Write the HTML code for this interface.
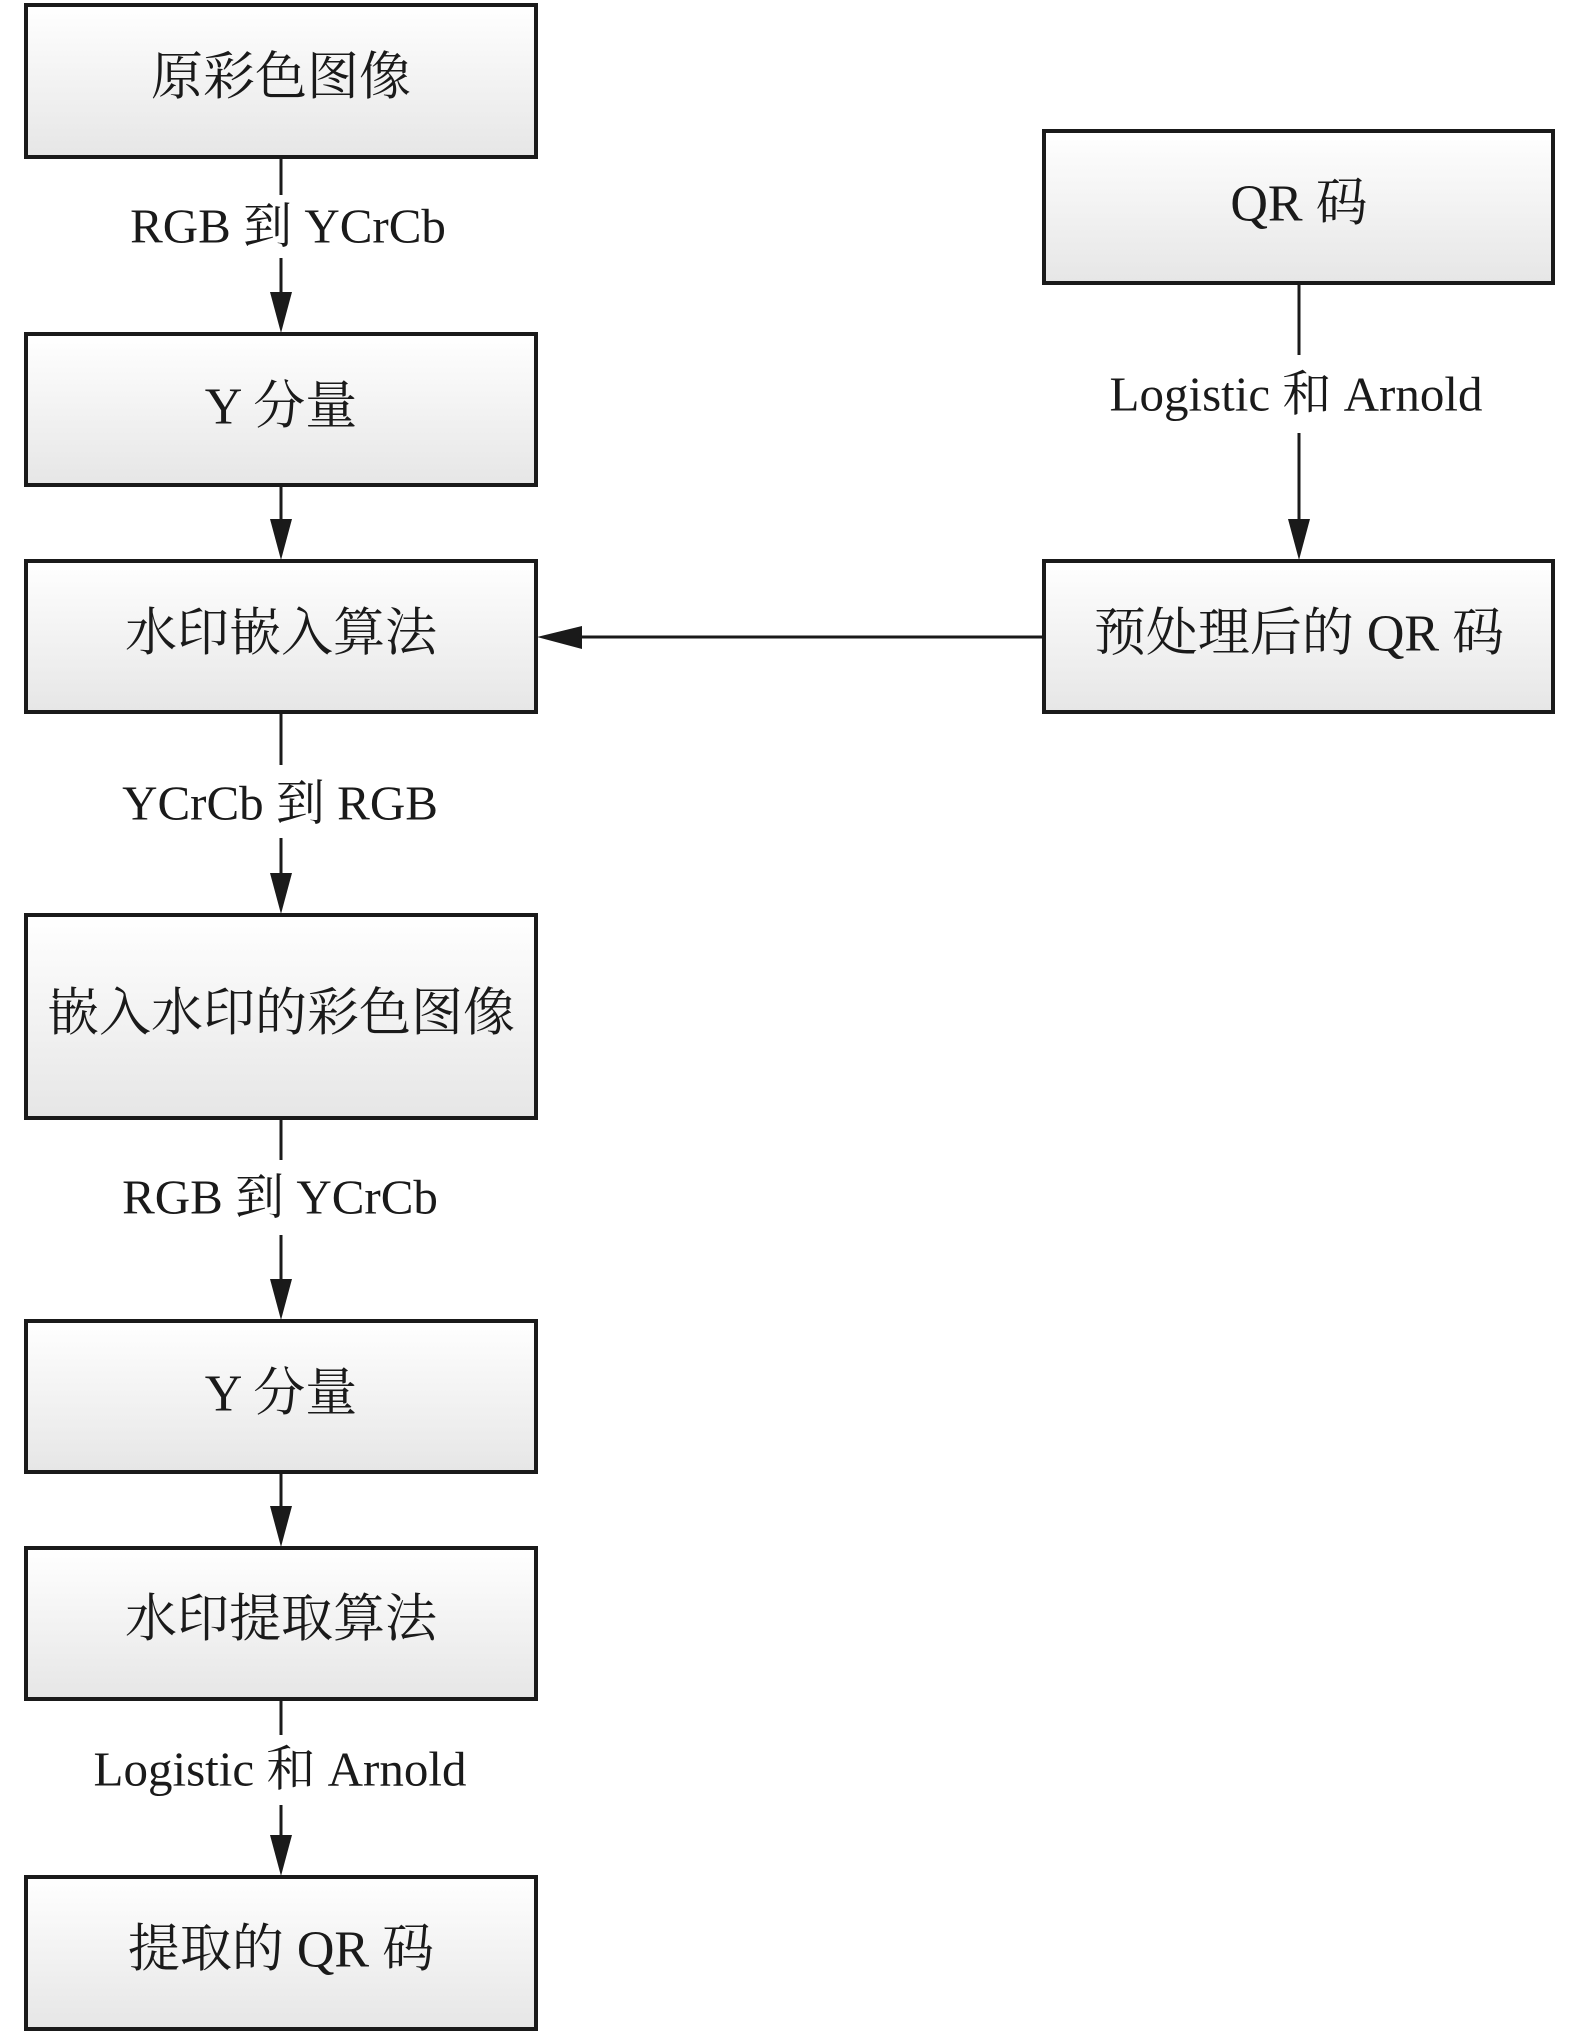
<!DOCTYPE html>
<html><head><meta charset="utf-8"><style>
html,body{margin:0;padding:0;background:#fff;}
svg{display:block;}
text{font-family:"Liberation Serif","Noto Serif CJK SC",serif;fill:#1a1a1a;}
</style></head><body>
<svg width="1575" height="2033" viewBox="0 0 1575 2033" xmlns="http://www.w3.org/2000/svg">
<defs>
<linearGradient id="g" x1="0" y1="0" x2="0" y2="1">
<stop offset="0" stop-color="#ffffff"/><stop offset="1" stop-color="#e6e6e6"/>
</linearGradient>
</defs>
<g stroke="#1a1a1a" stroke-width="4" fill="url(#g)">
<rect x="26" y="5" width="510" height="152"/>
<rect x="26" y="334" width="510" height="151"/>
<rect x="26" y="561" width="510" height="151"/>
<rect x="26" y="915" width="510" height="203"/>
<rect x="26" y="1321" width="510" height="151"/>
<rect x="26" y="1548" width="510" height="151"/>
<rect x="26" y="1877" width="510" height="152"/>
<rect x="1044" y="131" width="509" height="152"/>
<rect x="1044" y="561" width="509" height="151"/>
</g>
<g stroke="#1a1a1a" stroke-width="3" fill="none">
<line x1="281" y1="157" x2="281" y2="195"/><line x1="281" y1="258" x2="281" y2="295"/>
<line x1="281" y1="485" x2="281" y2="520"/>
<line x1="281" y1="712" x2="281" y2="765"/><line x1="281" y1="838" x2="281" y2="875"/>
<line x1="281" y1="1118" x2="281" y2="1160"/><line x1="281" y1="1235" x2="281" y2="1281"/>
<line x1="281" y1="1472" x2="281" y2="1508"/>
<line x1="281" y1="1699" x2="281" y2="1735"/><line x1="281" y1="1805" x2="281" y2="1837"/>
<line x1="1299" y1="283" x2="1299" y2="355"/><line x1="1299" y1="433" x2="1299" y2="521"/>
<line x1="1044" y1="637" x2="580" y2="637"/>
</g>
<g fill="#1a1a1a">
<polygon points="270,292 292,292 281,333"/>
<polygon points="270,519 292,519 281,560"/>
<polygon points="270,873 292,873 281,914"/>
<polygon points="270,1279 292,1279 281,1320"/>
<polygon points="270,1506 292,1506 281,1547"/>
<polygon points="270,1835 292,1835 281,1876"/>
<polygon points="1288,519 1310,519 1299,560"/>
<polygon points="582,626 582,649 537,637"/>
</g>
<g font-size="52" text-anchor="middle" dominant-baseline="central">
<text x="281" y="78">原彩色图像</text>
<text x="281" y="407">Y 分量</text>
<text x="281" y="634">水印嵌入算法</text>
<text x="281" y="1014">嵌入水印的彩色图像</text>
<text x="281" y="1394">Y 分量</text>
<text x="281" y="1620">水印提取算法</text>
<text x="281" y="1950">提取的 QR 码</text>
<text x="1299" y="204">QR 码</text>
<text x="1299" y="634">预处理后的 QR 码</text>
</g>
<g font-size="49" text-anchor="middle" dominant-baseline="central">
<text x="288" y="226">RGB 到 YCrCb</text>
<text x="280" y="803">YCrCb 到 RGB</text>
<text x="280" y="1197">RGB 到 YCrCb</text>
<text x="280" y="1769">Logistic 和 Arnold</text>
<text x="1296" y="394">Logistic 和 Arnold</text>
</g>
</svg>
</body></html>
